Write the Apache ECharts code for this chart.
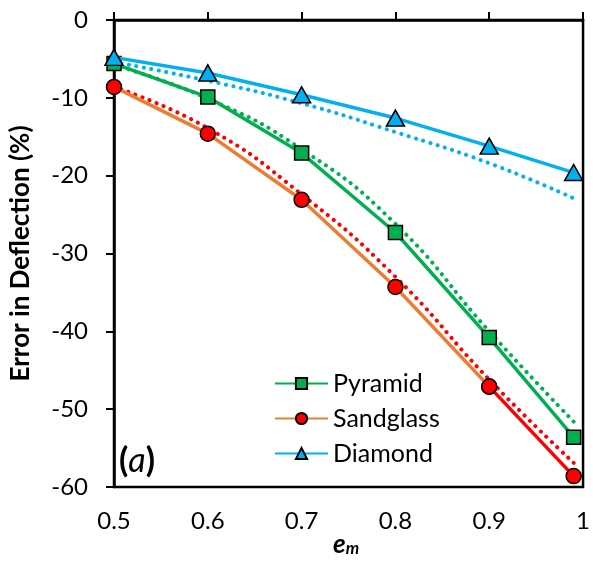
<!DOCTYPE html>
<html>
<head>
<meta charset="utf-8">
<script src="https://cdn.jsdelivr.net/npm/echarts@6/dist/echarts.min.js"></script>
<style>
html,body{margin:0;padding:0;background:#fff;}
#chart{width:593px;height:570px;}
</style>
</head>
<body>
<div id="chart"></div>
<script>
var xValues = [0.5, 0.6, 0.7, 0.8, 0.9, 0.99];
var pyramid = [-5.6, -9.9, -17.1, -27.3, -40.8, -53.6];
var sandglass = [-8.6, -14.6, -23.1, -34.3, -47.1, -58.6];
var diamond = [-4.8, -6.8, -9.6, -12.6, -16.2, -19.6];
var pyramidFit = [-5.8, -10.1, -16.6, -26.2, -40.0, -51.6];
var sandglassFit = [-8.6, -13.9, -22.4, -33.0, -46.2, -56.9];
var diamondFit = [-5.4, -7.8, -10.7, -14.4, -18.4, -22.9];
var yTicks = [0, -10, -20, -30, -40, -50, -60];
var xTicks = [0.5, 0.6, 0.7, 0.8, 0.9, 1];

function pts(ys, from, to) {
  var out = [];
  for (var i = 0; i < xValues.length; i++) out.push([xValues[i], ys[i]]);
  return out.slice(from || 0, to === undefined ? out.length : to);
}

var FONT = 'Lato';
var GREEN = '#00B050', ORANGE = '#ED7D31', BLUE = '#00B0F0', RED = '#FF0000';
var dotted = {type: [0.1, 7.5], cap: 'round', width: 4};

var chart = echarts.init(document.getElementById('chart'));
chart.setOption({
  animation: false,
  textStyle: {fontFamily: FONT},
  grid: {left: 109, right: 5, top: 20, bottom: 83, show: true, borderColor: '#000', borderWidth: 2.5, backgroundColor: 'transparent'},
  xAxis: [{
    type: 'value', min: 0.5, max: 1, interval: 0.1, position: 'bottom',
    axisLine: {show: false}, axisTick: {show: false}, splitLine: {show: false},
    axisLabel: {fontSize: 24, color: '#000', margin: 22, fontFamily: FONT,
      formatter: function (v) { return String(Math.round(v * 10) / 10); }}
  }, {
    type: 'value', min: 0.5, max: 1, interval: 0.1, position: 'top',
    axisLine: {show: true, lineStyle: {color: '#000', width: 2.5}},
    axisTick: {show: true, inside: false, length: 8, lineStyle: {color: '#000', width: 2}},
    axisLabel: {show: false}, splitLine: {show: false}
  }],
  yAxis: {
    type: 'value', min: -60, max: 0, interval: 10,
    axisLine: {show: true, lineStyle: {color: '#000', width: 2.5}},
    axisTick: {show: true, inside: false, length: 8, lineStyle: {color: '#000', width: 2}},
    splitLine: {show: false},
    axisLabel: {fontSize: 24, color: '#000', margin: 26, fontFamily: FONT},
    name: 'Error in Deflection (%)', nameLocation: 'middle', nameGap: 80, nameRotate: 90,
    nameTextStyle: {fontSize: 26, fontWeight: 'bold', color: '#000', fontFamily: FONT}
  },
  legend: {
    orient: 'vertical', left: 269, top: 366, itemWidth: 53, itemHeight: 14, itemGap: 10,
    textStyle: {fontSize: 25, color: '#000', fontFamily: FONT},
    data: ['Pyramid', 'Sandglass', 'Diamond']
  },
  graphic: [{
    type: 'text', left: 119, top: 444,
    style: {
      text: '{p|(}{a|a}{p|)}',
      rich: {
        p: {fontSize: 34, fontWeight: 'bold', fontFamily: FONT, fill: '#000'},
        a: {fontSize: 34, fontStyle: 'italic', fontFamily: FONT, fill: '#000'}
      }
    }
  }, {
    type: 'text', left: 333, top: 532,
    style: {
      text: '{e|e}{m|m}',
      rich: {
        e: {fontSize: 26, fontWeight: 'bold', fontStyle: 'italic', fontFamily: FONT, fill: '#000'},
        m: {fontSize: 17, fontWeight: 'bold', fontStyle: 'italic', fontFamily: FONT, fill: '#000', padding: [8, 0, 0, 0]}
      }
    }
  }],
  series: [
    {name: 'PyramidFit', type: 'line', data: pts(pyramidFit), smooth: true, showSymbol: false, lineStyle: Object.assign({color: GREEN}, dotted), z: 1, silent: true},
    {name: 'SandglassFit', type: 'line', data: pts(sandglassFit), smooth: true, showSymbol: false, lineStyle: Object.assign({color: RED}, dotted), z: 1, silent: true},
    {name: 'DiamondFit', type: 'line', data: pts(diamondFit), smooth: true, showSymbol: false, lineStyle: Object.assign({color: BLUE}, dotted), z: 1, silent: true},
    {name: 'SandglassTail', type: 'line', data: pts(sandglass, 4), symbol: 'circle', symbolSize: 15,
      lineStyle: {color: RED, width: 3.5}, itemStyle: {color: RED, borderColor: '#000', borderWidth: 1.5}, z: 2},
    {name: 'Sandglass', type: 'line', data: pts(sandglass, 0, 5), symbol: 'circle', symbolSize: 15,
      lineStyle: {color: ORANGE, width: 3.5}, itemStyle: {color: RED, borderColor: '#000', borderWidth: 1.5}, z: 3},
    {name: 'Pyramid', type: 'line', data: pts(pyramid), symbol: 'rect', symbolSize: 14,
      lineStyle: {color: GREEN, width: 3.5}, itemStyle: {color: GREEN, borderColor: '#000', borderWidth: 1.5}, z: 4},
    {name: 'Diamond', type: 'line', data: pts(diamond), symbol: 'triangle', symbolSize: [18, 16],
      lineStyle: {color: BLUE, width: 3.5}, itemStyle: {color: BLUE, borderColor: '#000', borderWidth: 1.5}, z: 5}
  ]
});
</script>
</body>
</html>
